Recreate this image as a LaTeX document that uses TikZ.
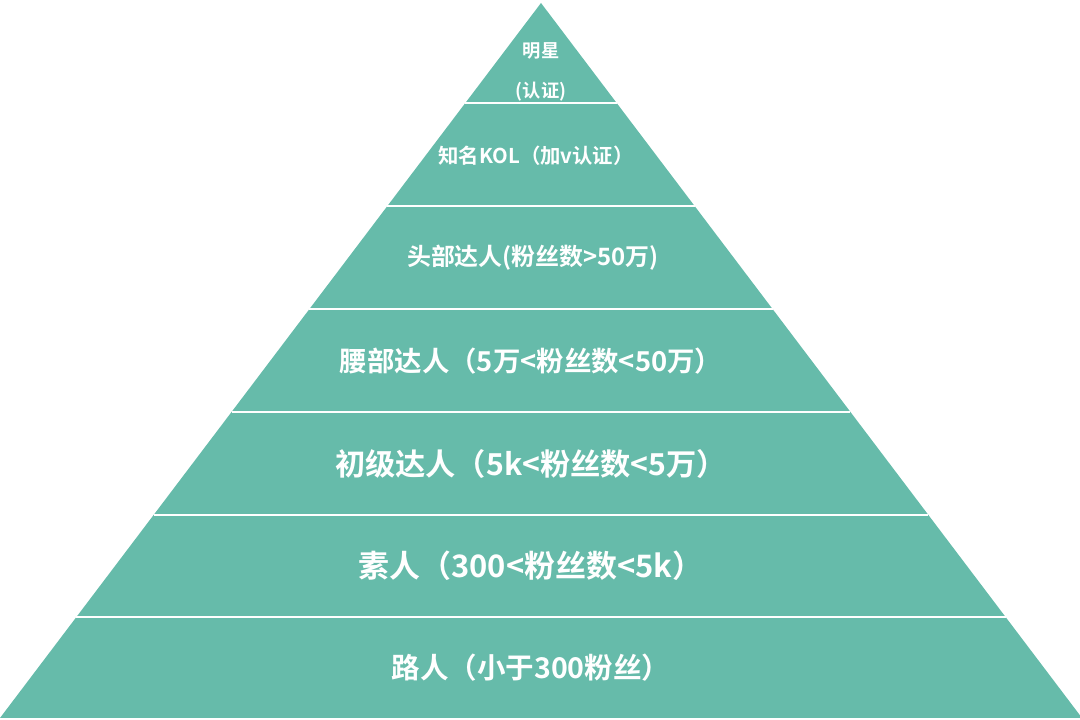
\documentclass[tikz,border=0pt]{standalone}
\usepackage{fontspec}
\setmainfont{Noto Sans CJK SC}[BoldFont={Noto Sans CJK SC Bold}]
\definecolor{pyrteal}{RGB}{102,187,170}
\tikzset{
  tierlabel/.style={text=white, font=\bfseries, align=center, inner sep=0pt}
}
\begin{document}
\begin{tikzpicture}[x=0.025cm, y=-0.025cm]
    \useasboundingbox (0,0) rectangle (1080,720);
    % pyramid body
    \coordinate (apex) at (541,3);
    \coordinate (baseL) at (0,718);
    \coordinate (baseR) at (1082,718);
    \fill[pyrteal] (apex) -- (baseL) -- (baseR) -- cycle;
    % separators
    \foreach \y in {103,206,309,412,515,617} {
        \pgfmathsetmacro{\hw}{(\y-3)/715*541}
        \draw[white, line width=1.4pt] (541-\hw,\y) -- (541+\hw,\y);
    }
    % labels
    \node[tierlabel, font=\bfseries\fontsize{13}{29}\selectfont] (star) at (541,72) {明星\\(认证)};
    \node[tierlabel, font=\bfseries\fontsize{14.5}{16}\selectfont] (kol) at (536,156) {知名KOL（加v认证）};
    \node[tierlabel, font=\bfseries\fontsize{17}{19}\selectfont] (head) at (533,258) {头部达人(粉丝数>50万)};
    \node[tierlabel, font=\bfseries\fontsize{19.5}{21}\selectfont] (waist) at (531,361) {腰部达人（5万<粉丝数<50万）};
    \node[tierlabel, font=\bfseries\fontsize{21.5}{23}\selectfont] (junior) at (531,464) {初级达人（5k<粉丝数<5万）};
    \node[tierlabel, font=\bfseries\fontsize{22}{24}\selectfont] (amateur) at (531,566) {素人（300<粉丝数<5k）};
    \node[tierlabel, font=\bfseries\fontsize{20.3}{22}\selectfont] (passer) at (531,668) {路人（小于300粉丝）};
\end{tikzpicture}
\end{document}
